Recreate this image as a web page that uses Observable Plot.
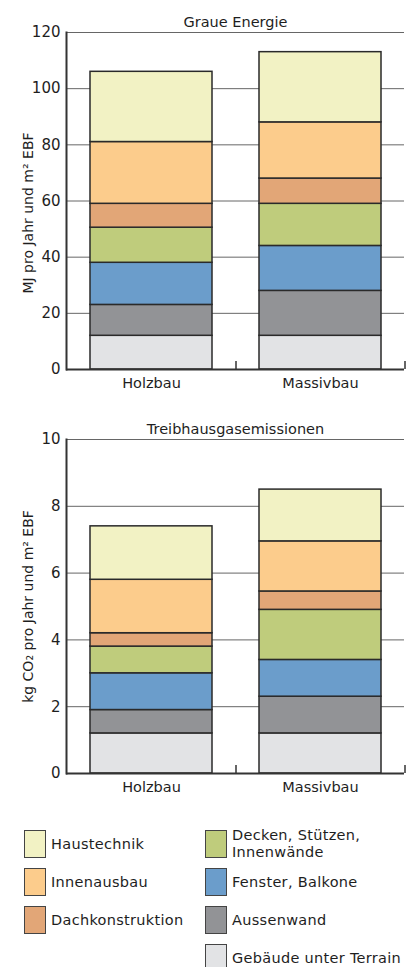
<!DOCTYPE html>
<html>
<head>
<meta charset="utf-8">
<script src="https://cdn.jsdelivr.net/npm/d3@7"></script>
<script src="https://cdn.jsdelivr.net/npm/@observablehq/plot@0.6"></script>
<style>
  html, body { margin: 0; padding: 0; background: #fff; }
  body { width: 409px; font-family: "DejaVu Sans", sans-serif; color: #1e1e1e; }
  .legend { position: relative; height: 167px; }
  .col { position: absolute; top: 30px; }
  .item { display: flex; align-items: center; height: 28px; margin-bottom: 10px; font-size: 14.5px; line-height: 17px; letter-spacing: 0.3px; }
  .sw { width: 20px; height: 26px; border: 1px solid #444; margin-right: 5px; flex: none; }
  .lbl { white-space: pre-line; }
</style>
</head>
<body>
<div id="c1"></div>
<div id="c2"></div>
<div class="legend" id="legend"></div>
<script>
const buildings = ["Holzbau", "Massivbau"];
const categories = ["Gebäude unter Terrain", "Aussenwand", "Fenster, Balkone", "Decken, Stützen, Innenwände", "Dachkonstruktion", "Innenausbau", "Haustechnik"];
const colors = ["#e2e3e5", "#929396", "#6b9dcb", "#bfcc7c", "#e2a677", "#fccc8c", "#f2f2c4"];
const legendLeft = ["Haustechnik", "Innenausbau", "Dachkonstruktion"];
const legendRight = ["Decken, Stützen, Innenwände", "Fenster, Balkone", "Aussenwand", "Gebäude unter Terrain"];
const legendText = {"Decken, Stützen, Innenwände": "Decken, Stützen,\nInnenwände"};

const energyHolzbau = [12, 11, 15, 12.5, 8.5, 22, 25];
const energyMassivbau = [12, 16, 16, 15, 9, 20, 25];
const energyTicks = [0, 20, 40, 60, 80, 100, 120];

const ghgHolzbau = [1.2, 0.7, 1.1, 0.8, 0.4, 1.6, 1.6];
const ghgMassivbau = [1.2, 1.1, 1.1, 1.5, 0.55, 1.5, 1.55];
const ghgTicks = [0, 2, 4, 6, 8, 10];

function chart({title, label, labelDy, holz, massiv, ticks, height, marginTop, marginBottom}) {
  const data = [];
  buildings.forEach((b, i) => categories.forEach((c, j) => data.push({building: b, category: c, value: (i ? massiv : holz)[j]})));
  const width = 409, marginLeft = 66, marginRight = 5, pi = 0.28, po = 0.14;
  const plotH = height - marginTop - marginBottom;
  const step = (width - marginLeft - marginRight) / (buildings.length - pi + 2 * po);
  return Plot.plot({
    width, height, marginTop, marginBottom, marginLeft, marginRight,
    style: {fontFamily: "DejaVu Sans", fontSize: "14px", color: "#1e1e1e", background: "white"},
    x: {domain: buildings, paddingInner: pi, paddingOuter: po},
    y: {domain: [ticks[0], ticks[ticks.length - 1]]},
    color: {domain: categories, range: colors},
    marks: [
      Plot.ruleY(ticks.filter(t => t > 0), {stroke: "#555", strokeWidth: 0.9}),
      Plot.barY(data, Plot.stackY({x: "building", y: "value", fill: "category", order: categories, stroke: "#2a2a2a", strokeWidth: 1.5})),
      Plot.ruleY([0], {stroke: "#333", strokeWidth: 2}),
      Plot.frame({anchor: "left", stroke: "#333", strokeWidth: 2}),
      Plot.ruleX(buildings, {x: d => d, dx: step / 2, insetTop: plotH - 8, stroke: "#333", strokeWidth: 1.5}),
      Plot.axisX({label: null, tickSize: 0, tickPadding: 8, fontSize: 14.5}),
      Plot.axisY({ticks, tickSize: 0, tickPadding: 6, fontSize: 15, label: null}),
      Plot.text([label], {frameAnchor: "left", textAnchor: "middle", lineAnchor: "middle", rotate: -90, dx: -38, dy: labelDy, fontSize: 14, letterSpacing: 0.8}),
      Plot.text([title], {frameAnchor: "top", dy: -16, fontSize: 14.5})
    ]
  });
}

document.getElementById("c1").append(chart({
  title: "Graue Energie", label: "MJ pro Jahr und m² EBF", labelDy: 12,
  holz: energyHolzbau, massiv: energyMassivbau, ticks: energyTicks,
  height: 400, marginTop: 32, marginBottom: 31
}));
document.getElementById("c2").append(chart({
  title: "Treibhausgasemissionen", label: "kg CO₂ pro Jahr und m² EBF", labelDy: 0,
  holz: ghgHolzbau, massiv: ghgMassivbau, ticks: ghgTicks,
  height: 400, marginTop: 39, marginBottom: 27
}));

const legend = document.getElementById("legend");
function col(items, left) {
  const c = document.createElement("div");
  c.className = "col";
  c.style.left = left + "px";
  items.forEach(name => {
    const it = document.createElement("div");
    it.className = "item";
    const sw = document.createElement("div");
    sw.className = "sw";
    sw.style.background = colors[categories.indexOf(name)];
    const t = document.createElement("div");
    t.className = "lbl";
    t.textContent = legendText[name] || name;
    it.append(sw, t);
    c.append(it);
  });
  legend.append(c);
}
col(legendLeft, 24);
col(legendRight, 205);
</script>
</body>
</html>
